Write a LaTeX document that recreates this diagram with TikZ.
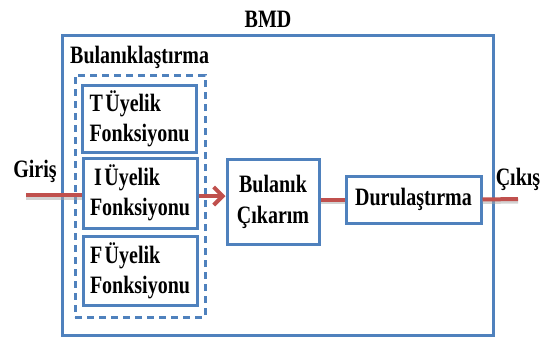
\documentclass[tikz,border=0pt]{standalone}
\usepackage{fontspec}
\setmainfont{Liberation Serif}[FakeStretch=0.8]
\usetikzlibrary{arrows.meta}
\definecolor{boxblue}{RGB}{79,129,189}
\definecolor{linered}{RGB}{192,80,77}
\newcommand{\gapsp}{\hspace{2.5pt}}
\begin{document}
\begin{tikzpicture}[x=1pt,y=-1pt,
  box/.style={draw=boxblue, line width=3pt, fill=white, inner sep=0pt},
  memb/.style={box, minimum width=114pt, text width=100pt, align=left,
    font=\bfseries\fontsize{25}{30}\selectfont},
  lbl/.style={inner sep=0pt, font=\bfseries\fontsize{25}{30}\selectfont},
  flow/.style={draw=linered, line width=4pt},
  shadowline/.style={draw=black!35, line width=4pt, opacity=0.5},
]
\useasboundingbox (0,0) rectangle (551,338);
% outer box
\node[box, fill=none, minimum width=431pt, minimum height=300pt] (outer) at (277.5,185) {};
\node[lbl] (title) at (268,19) {BMD};
\node[lbl, anchor=west] (fuzz) at (70,57) {Bulanıklaştırma};
% dashed group
\node[draw=boxblue, line width=3pt, dash pattern=on 7pt off 5pt, minimum width=130pt, minimum height=242pt, inner sep=0pt] (group) at (140,196) {};
% membership boxes
\node[memb, minimum height=67pt] (T) at (139.5,118.5) {T\gapsp Üyelik\\Fonksiyonu};
\node[memb, minimum height=70pt] (I) at (140,193) {\,I\gapsp Üyelik\\Fonksiyonu};
\node[memb, minimum height=69pt] (F) at (140,270.5) {F\gapsp Üyelik\\Fonksiyonu};
% inference and defuzzification
\node[box, minimum width=92pt, minimum height=85pt, align=center, font=\bfseries\fontsize{25}{31}\selectfont] (inf) at (273,201.5) {Bulanık\\Çıkarım};
\node[box, minimum width=135pt, minimum height=47pt, font=\bfseries\fontsize{25}{30}\selectfont] (def) at (413.5,199.5) {Durulaştırma};
% labels
\node[lbl] (in) at (35,171) {Giriş};
\node[lbl] (outl) at (518,179) {Çıkış};
\coordinate (inStart) at (26,195);
\coordinate (outEnd) at (518,199);
% shadows
\draw[shadowline] ([yshift=-2.5pt]inStart) -- ([yshift=-2.5pt]I.west |- inStart);
\draw[shadowline] ([yshift=-2.5pt]def.east) -- ([yshift=-2.5pt]outEnd);
\draw[shadowline] ([yshift=-2.5pt]inf.east |- def.west) -- ([yshift=-2.5pt]def.west);
% flows
\draw[flow] (inStart) -- (I.west |- inStart);
\draw[flow, -{Straight Barb[length=9pt,width=18pt]}] (I.east |- 0,196) -- (inf.west |- 0,196);
\draw[flow] (inf.east |- def.west) -- (def.west);
\draw[flow] (def.east) -- (outEnd);
\end{tikzpicture}
\end{document}
